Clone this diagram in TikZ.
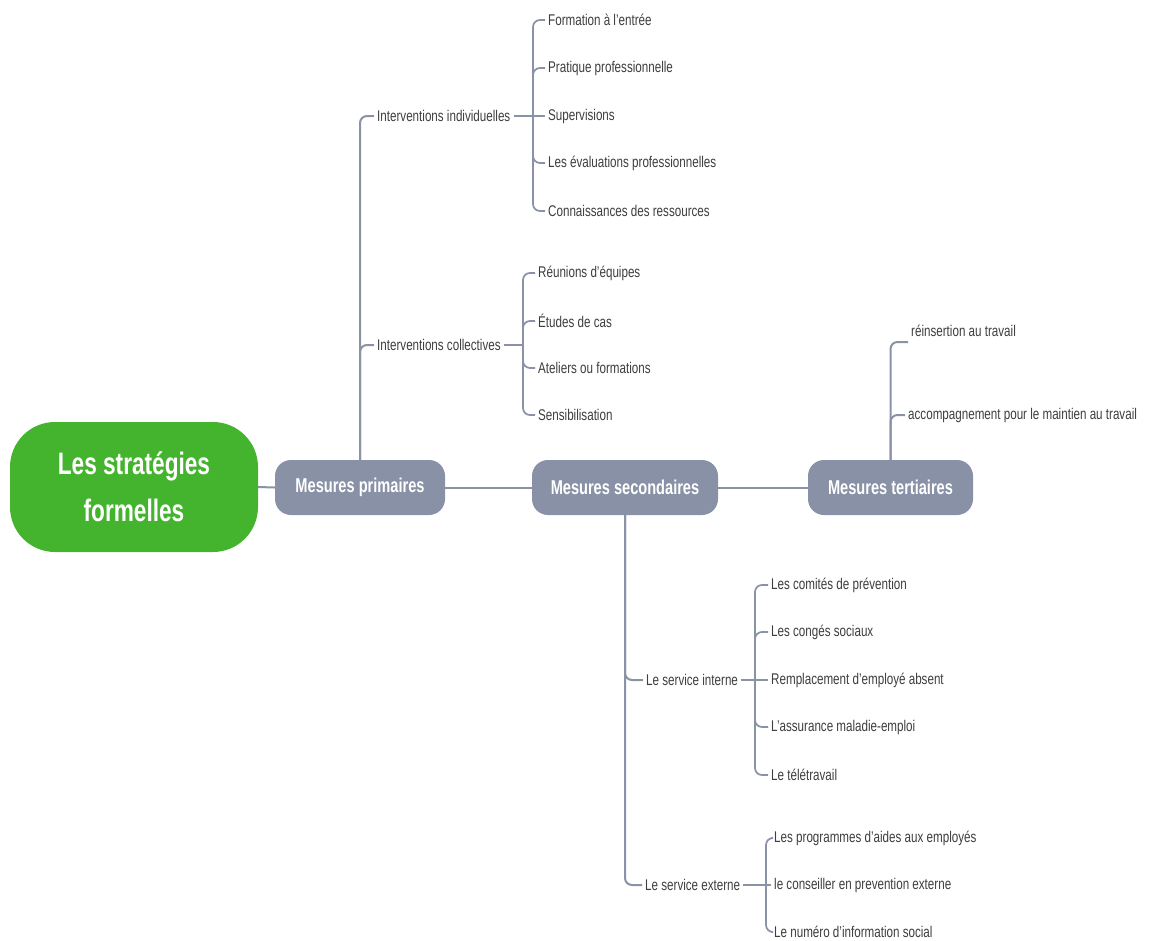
\documentclass[tikz,border=0pt]{standalone}
\usepackage{fontspec}
\setmainfont{Liberation Sans}[FakeStretch=0.75]
\newfontfamily\titlefont{Liberation Sans}[FakeStretch=0.73]
\definecolor{linec}{RGB}{138,147,166}
\definecolor{boxc}{RGB}{136,145,165}
\definecolor{rootc}{RGB}{68,180,46}
\definecolor{textc}{RGB}{62,62,62}
\begin{document}
\begin{tikzpicture}[x=1pt,y=-1pt,
  conn/.style={draw=linec, line width=2pt, rounded corners=7pt},
  sub/.style={draw=linec, line width=1.7pt, rounded corners=7pt},
  leaf/.style={anchor=west, inner xsep=3pt, inner ysep=0pt, text=textc, font=\fontsize{15.5}{18}\selectfont},
  mainbox/.style={fill=boxc, text=white, rounded corners=16pt, minimum height=55pt, inner sep=0pt, font=\titlefont\bfseries\fontsize{20}{24}\selectfont}]
\useasboundingbox (0,0) rectangle (1159,940);
\fill[white] (0,0) rectangle (1159,940);

% main nodes
\node[fill=rootc, text=white, rounded corners=45pt, minimum width=248pt, minimum height=130pt, inner sep=0pt, align=center, font=\titlefont\bfseries\fontsize{31}{47}\selectfont] (root) at (134,487) {Les stratégies\\formelles};
\node[mainbox, minimum width=170pt] (prim) at (360,487.5) {Mesures primaires};
\node[mainbox, minimum width=186pt] (sec) at (625,487.5) {Mesures secondaires};
\node[mainbox, minimum width=165pt] (tert) at (890.5,487.5) {Mesures tertiaires};

\draw[conn] (root.east) -- (prim.west);
\draw[conn] (prim.east) -- (sec.west);
\draw[conn] (sec.east) -- (tert.west);

% primaires
\node[leaf] (ii) at (374,116) {Interventions individuelles};
\node[leaf] (ic) at (374,345) {Interventions collectives};
\draw[conn] (prim.north) |- (ii.west);
\draw[conn] (prim.north) |- (ic.west);

\coordinate (iib) at (533,116);
\draw[sub] (ii.east) -- (iib);
\node[leaf] (f1) at (545,20) {Formation à l'entrée};
\node[leaf] (f2) at (545,68) {Pratique professionnelle};
\node[leaf] (f3) at (545,116) {Supervisions};
\node[leaf] (f4) at (545,163) {Les évaluations professionnelles};
\node[leaf] (f5) at (545,211) {Connaissances des ressources};
\foreach \n in {f1,f2,f4,f5} \draw[sub] (iib) |- (\n.west);
\draw[sub] (iib) -- (f3.west);

\coordinate (icb) at (523,345);
\draw[sub] (ic.east) -- (icb);
\node[leaf] (c1) at (535,273) {Réunions d'équipes};
\node[leaf] (c2) at (535,321) {Études de cas};
\node[leaf] (c3) at (535,368) {Ateliers ou formations};
\node[leaf] (c4) at (535,415) {Sensibilisation};
\foreach \n in {c1,c2,c3,c4} \draw[sub] (icb) |- (\n.west);

% tertiaires
\node[leaf] (rein) at (908,331) {réinsertion au travail};
\node[leaf] (acc) at (905,415) {accompagnement pour le maintien au travail};
\draw[conn] (tert.north) |- ([yshift=-11pt]rein.west);
\draw[conn] (tert.north) |- (acc.west);

% secondaires
\node[leaf] (si) at (643,680) {Le service interne};
\node[leaf] (se) at (642,885) {Le service externe};
\draw[conn] (sec.south) |- (si.west);
\draw[conn] (sec.south) |- (se.west);

\coordinate (sib) at (755,680);
\draw[sub] (si.east) -- (sib);
\node[leaf] (s1) at (768,585) {Les comités de prévention};
\node[leaf] (s2) at (768,632) {Les congés sociaux};
\node[leaf] (s3) at (768,680) {Remplacement d'employé absent};
\node[leaf] (s4) at (768,727) {L'assurance maladie-emploi};
\node[leaf] (s5) at (768,775) {Le télétravail};
\foreach \n in {s1,s2,s4,s5} \draw[sub] (sib) |- (\n.west);
\draw[sub] (sib) -- (s3.west);

\coordinate (seb) at (766,885);
\draw[sub] (se.east) -- (seb);
\node[leaf] (e1) at (771,838) {Les programmes d'aides aux employés};
\node[leaf] (e2) at (771,885) {le conseiller en prevention externe};
\node[leaf] (e3) at (771,932) {Le numéro d'information social};
\foreach \n in {e1,e3} \draw[sub] (seb) |- (\n.west);
\draw[sub] (seb) -- (e2.west);
\end{tikzpicture}
\end{document}
